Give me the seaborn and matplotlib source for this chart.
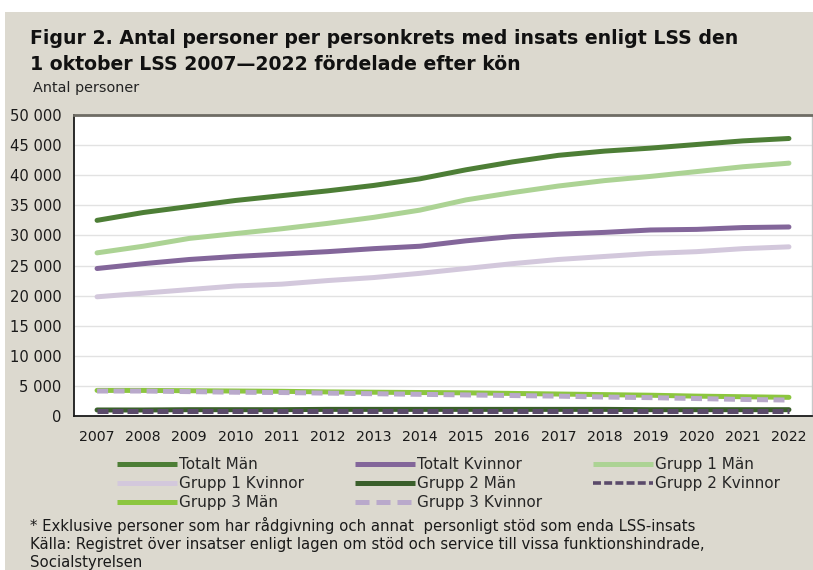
import matplotlib
matplotlib.use("Agg")
import matplotlib.pyplot as plt
from matplotlib.lines import Line2D
from matplotlib.patches import Rectangle
from matplotlib.ticker import FuncFormatter, FixedLocator
import seaborn as sns
import pandas as pd

# --- data -------------------------------------------------------------
years = list(range(2007, 2023))

totalt_man = [32500, 33800, 34800, 35800, 36600, 37400, 38300, 39400,
              40900, 42200, 43300, 44000, 44500, 45100, 45700, 46100]
totalt_kvinnor = [24500, 25300, 26000, 26500, 26900, 27300, 27800, 28200,
                  29100, 29800, 30200, 30500, 30900, 31000, 31300, 31400]
grupp1_man = [27100, 28200, 29500, 30300, 31100, 32000, 33000, 34200,
              35900, 37100, 38200, 39100, 39800, 40600, 41400, 42000]
grupp1_kvinnor = [19800, 20400, 21000, 21600, 21900, 22500, 23000, 23700,
                  24500, 25300, 26000, 26500, 27000, 27300, 27800, 28100]
grupp2_man = [1000, 1000, 1050, 1050, 1050, 1100, 1100, 1100,
              1100, 1100, 1100, 1100, 1050, 1050, 1050, 1050]
grupp2_kvinnor = [750, 750, 750, 750, 750, 750, 750, 750,
                  750, 750, 750, 750, 750, 750, 750, 750]
grupp3_man = [4250, 4250, 4200, 4150, 4100, 4000, 3950, 3900,
              3850, 3750, 3650, 3550, 3450, 3300, 3200, 3100]
grupp3_kvinnor = [4150, 4150, 4050, 3950, 3900, 3800, 3700, 3600,
                  3500, 3400, 3300, 3150, 3050, 2900, 2750, 2650]

series_names = ["Totalt Män", "Totalt Kvinnor", "Grupp 1 Män", "Grupp 1 Kvinnor",
                "Grupp 2 Män", "Grupp 2 Kvinnor", "Grupp 3 Män", "Grupp 3 Kvinnor"]
series_values = [totalt_man, totalt_kvinnor, grupp1_man, grupp1_kvinnor,
                 grupp2_man, grupp2_kvinnor, grupp3_man, grupp3_kvinnor]

# --- styling ----------------------------------------------------------
palette = {
    "Totalt Män": "#4d7e36",
    "Totalt Kvinnor": "#83669a",
    "Grupp 1 Män": "#acd394",
    "Grupp 1 Kvinnor": "#d3c8dc",
    "Grupp 2 Män": "#3a5f2b",
    "Grupp 2 Kvinnor": "#5a4a6a",
    "Grupp 3 Män": "#8cc63f",
    "Grupp 3 Kvinnor": "#b9a9cb",
}
dashes = {
    "Totalt Män": "",
    "Totalt Kvinnor": "",
    "Grupp 1 Män": "",
    "Grupp 1 Kvinnor": "",
    "Grupp 2 Män": "",
    "Grupp 2 Kvinnor": (2.2, 0.8),
    "Grupp 3 Män": "",
    "Grupp 3 Kvinnor": (2.2, 1.1),
}
# legend keys: thinner short dashes for Grupp 2 Kvinnor, longer ones for Grupp 3 Kvinnor
legend_style = {
    "Grupp 2 Kvinnor": dict(linewidth=2.6, dashes=(2.2, 0.9)),
    "Grupp 3 Kvinnor": dict(linewidth=3.6, dashes=(2.8, 1.4)),
}
BG = "#dcd9cf"

df = pd.DataFrame(
    [(y, name, v) for name, vals in zip(series_names, series_values)
     for y, v in zip(years, vals)],
    columns=["År", "Serie", "Antal"],
)

sns.set_theme(style="white")
plt.rcParams["font.family"] = ["DejaVu Sans"]

fig = plt.figure(figsize=(8.13, 5.70), dpi=100, facecolor=BG)
# white page margin at top and left
fig.patches.append(Rectangle((0, 1 - 12 / 570), 1, 12 / 570, transform=fig.transFigure,
                             facecolor="white", edgecolor="none", zorder=0))
fig.patches.append(Rectangle((0, 0), 5 / 813, 1, transform=fig.transFigure,
                             facecolor="white", edgecolor="none", zorder=0))

ax = fig.add_axes([74 / 813, 1 - 416 / 570, (812 - 74) / 813, (416 - 115) / 570])
ax.set_facecolor("white")

sns.lineplot(data=df, x="År", y="Antal", hue="Serie", hue_order=series_names,
             style="Serie", style_order=series_names, dashes=dashes,
             palette=palette, linewidth=3.6, legend=False, ax=ax,
             solid_capstyle="round", dash_capstyle="butt")

ax.set_xlim(2006.5, 2022.5)
ax.set_ylim(0, 50000)
ax.set_xticks(years)
ax.set_xticklabels([str(y) for y in years])
ax.xaxis.set_minor_locator(FixedLocator([y + 0.5 for y in range(2006, 2023)]))
ax.set_yticks(range(0, 50001, 5000))
ax.yaxis.set_major_formatter(FuncFormatter(lambda v, p: f"{v:,.0f}".replace(",", " ")))
ax.grid(axis="y", color="#e2e2e2", linewidth=1.0)
ax.set_axisbelow(True)
ax.set_xlabel("")
ax.set_ylabel("")

ax.tick_params(axis="x", which="major", length=0, pad=10, labelsize=10.2, colors="#1a1a1a")
ax.tick_params(axis="x", which="minor", direction="in", length=4, width=1, color="#333333")
ax.tick_params(axis="y", length=0, pad=9, labelsize=10.6, colors="#1a1a1a")

for side in ["left", "bottom"]:
    ax.spines[side].set_color("#1a1a1a")
    ax.spines[side].set_linewidth(1.3)
ax.spines["top"].set_color("#6e6c64")
ax.spines["top"].set_linewidth(2.0)
ax.spines["right"].set_color("#c8c8c8")
ax.spines["right"].set_linewidth(1.0)

# --- titles and notes ---------------------------------------------------
fig.text(30 / 813, 1 - 38 / 570, "Figur 2. Antal personer per personkrets med insats enligt LSS den",
         fontsize=13.6, fontweight="bold", color="#111111", va="center", ha="left")
fig.text(30 / 813, 1 - 64 / 570, "1 oktober LSS 2007\u20142022 fördelade efter kön",
         fontsize=13.6, fontweight="bold", color="#111111", va="center", ha="left")
fig.text(33 / 813, 1 - 88 / 570, "Antal personer", fontsize=10.4, color="#222222",
         va="center", ha="left")

notes = ["* Exklusive personer som har rådgivning och annat  personligt stöd som enda LSS-insats",
         "Källa: Registret över insatser enligt lagen om stöd och service till vissa funktionshindrade,",
         "Socialstyrelsen"]
for i, line in enumerate(notes):
    fig.text(30 / 813, 1 - (525 + 19 * i) / 570, line, fontsize=10.7, color="#1a1a1a",
             va="center", ha="left")

# --- legend in three columns --------------------------------------------
def handle(name):
    kw = dict(color=palette[name], linewidth=3.6, solid_capstyle="butt", dash_capstyle="butt")
    kw.update(legend_style.get(name, {}))
    return Line2D([0], [0], **kw)

columns = [[0, 3, 6], [1, 4, 7], [2, 5]]
col_x = [117, 355, 593]
for idx, x0 in zip(columns, col_x):
    fig.legend(handles=[handle(series_names[i]) for i in idx],
               labels=[series_names[i] for i in idx],
               loc="upper left", bbox_to_anchor=(x0 / 813, 1 - 457 / 570),
               frameon=False, fontsize=11, handlelength=3.9,
               handletextpad=0.15, labelspacing=0.26, borderpad=0,
               borderaxespad=0)

fig.savefig("out.png", dpi=100, facecolor=BG)
